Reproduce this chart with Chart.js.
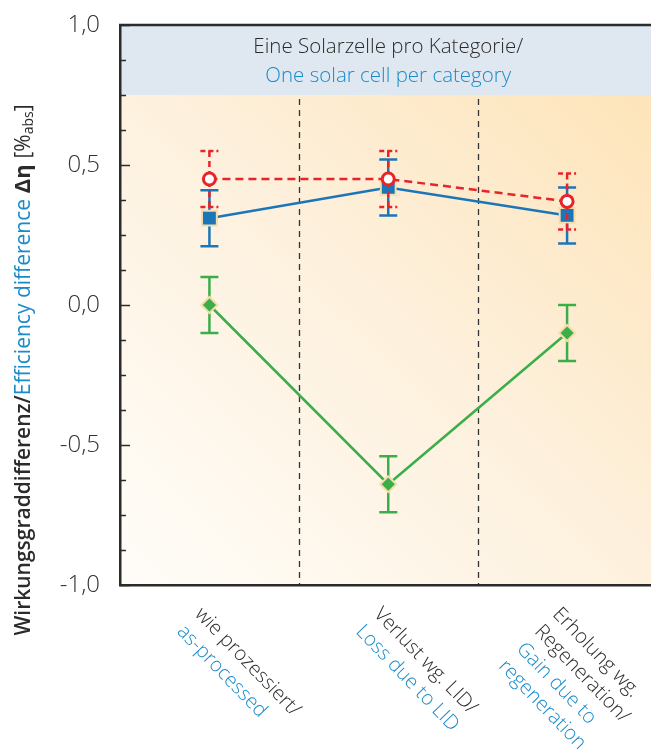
<!DOCTYPE html>
<html>
<head>
<meta charset="utf-8">
<script src="https://cdn.jsdelivr.net/npm/chart.js@4"></script>
<style>
  html, body { margin: 0; padding: 0; background: #fff; overflow: hidden; }
  #wrap { width: 669px; height: 751px; }
</style>
</head>
<body>
<div id="wrap"><canvas id="chart" width="669" height="751"></canvas></div>
<script>
// ===== DATA =====
const categories = ['wie prozessiert', 'Verlust wg. LID', 'Erholung wg. Regeneration'];
const labelsDe = [['wie prozessiert/'], ['Verlust wg. LID/'], ['Erholung wg.', 'Regeneration/']];
const labelsEn = [['as-processed'], ['Loss due to LID'], ['Gain due to', 'regeneration']];

const redValues = [0.45, 0.45, 0.37];
const redErrors = [0.10, 0.10, 0.10];
const blueValues = [0.31, 0.42, 0.32];
const blueErrors = [0.10, 0.10, 0.10];
const greenValues = [0.00, -0.64, -0.10];
const greenErrors = [0.10, 0.10, 0.10];

const yTicks = [-1.0, -0.5, 0.0, 0.5, 1.0];
const yMinorStep = 0.125;
const bandFrom = 0.75;

const headerDe = 'Eine Solarzelle pro Kategorie/';
const headerEn = 'One solar cell per category';

// ===== STYLE =====
const FONT = '"Open Sans", sans-serif';
const DARK = '#2b2b2b';
const BLUE_TXT = '#1a8bc9';
const RED = '#e8242b';
const BLUE = '#1b76b9';
const GREEN = '#3aae49';
const HALO = '#f7dcab';

const errorSets = [
  { errors: redErrors, color: RED, dash: [6, 4] },
  { errors: blueErrors, color: BLUE, dash: [] },
  { errors: greenErrors, color: GREEN, dash: [] }
];

const decor = {
  id: 'decor',
  beforeDraw(chart) {
    const { ctx, chartArea: a, scales: { x, y } } = chart;
    const bandY = y.getPixelForValue(bandFrom);
    ctx.save();
    const g = ctx.createLinearGradient(a.left, a.bottom, a.right, a.top);
    g.addColorStop(0, '#fffdf9');
    g.addColorStop(0.5, '#fdf0dc');
    g.addColorStop(1, '#fee2b3');
    ctx.fillStyle = g;
    ctx.fillRect(a.left, bandY, a.right - a.left, a.bottom - bandY);
    ctx.fillStyle = '#dfe7f1';
    ctx.fillRect(a.left, a.top, a.right - a.left, bandY - a.top);

    // dashed separators between categories
    ctx.strokeStyle = '#333';
    ctx.lineWidth = 1.3;
    ctx.setLineDash([6, 5]);
    for (let i = 0; i < categories.length - 1; i++) {
      const sx = Math.round((x.getPixelForValue(i) + x.getPixelForValue(i + 1)) / 2) + 0.5;
      ctx.beginPath();
      ctx.moveTo(sx, bandY + 4);
      ctx.lineTo(sx, a.bottom);
      ctx.stroke();
    }
    ctx.restore();
  },
  beforeDatasetDraw(chart, args) {
    const set = errorSets[args.index];
    const { ctx, scales: { x, y } } = chart;
    const vals = chart.data.datasets[args.index].data;
    ctx.save();
    ctx.strokeStyle = set.color;
    ctx.lineWidth = 2.5;
    vals.forEach((v, i) => {
      const px = x.getPixelForValue(i);
      const top = y.getPixelForValue(v + set.errors[i]);
      const bot = y.getPixelForValue(v - set.errors[i]);
      ctx.setLineDash(set.dash);
      ctx.beginPath();
      ctx.moveTo(px, top);
      ctx.lineTo(px, bot);
      ctx.stroke();
      ctx.setLineDash(set.dash.length ? [5, 3] : []);
      ctx.beginPath();
      ctx.moveTo(px - 9, top); ctx.lineTo(px + 9, top);
      ctx.moveTo(px - 9, bot); ctx.lineTo(px + 9, bot);
      ctx.stroke();
    });
    ctx.restore();
  },
  afterDraw(chart) {
    const { ctx, chartArea: a, scales: { x, y } } = chart;
    ctx.save();

    // top frame line
    ctx.strokeStyle = DARK;
    ctx.lineWidth = 2.5;
    ctx.beginPath();
    ctx.moveTo(a.left - 1, a.top);
    ctx.lineTo(a.right + 5, a.top);
    ctx.stroke();

    // inward tick marks
    ctx.lineWidth = 1.5;
    for (let v = y.min; v <= y.max + 1e-9; v += yMinorStep) {
      const py = Math.round(y.getPixelForValue(v)) + 0.5;
      const major = yTicks.some(t => Math.abs(t - v) < 1e-6);
      ctx.beginPath();
      ctx.moveTo(a.left, py);
      ctx.lineTo(a.left + (major ? 10 : 6), py);
      ctx.stroke();
    }

    // header in the blue band
    const cx = (a.left + a.right) / 2;
    ctx.textAlign = 'center';
    ctx.textBaseline = 'middle';
    ctx.font = '300 20.5px ' + FONT;
    ctx.fillStyle = DARK;
    ctx.fillText(headerDe, cx, a.top + 22);
    ctx.fillStyle = BLUE_TXT;
    ctx.fillText(headerEn, cx, a.top + 51);

    // rotated category labels
    ctx.textAlign = 'left';
    ctx.textBaseline = 'top';
    ctx.font = '300 20px ' + FONT;
    categories.forEach((c, i) => {
      const px = x.getPixelForValue(i);
      const lines = labelsDe[i].map(t => [t, DARK]).concat(labelsEn[i].map(t => [t, BLUE_TXT]));
      ctx.save();
      ctx.translate(px - 4, a.bottom + 19);
      ctx.rotate(46 * Math.PI / 180);
      lines.forEach(([t, col], k) => {
        ctx.fillStyle = col;
        ctx.fillText(t, 0, k * 25);
      });
      ctx.restore();
    });

    // y axis title, mixed colours
    const parts = [
      { t: 'Wirkungsgraddifferenz/', f: '600 21px ' + FONT, c: DARK, dy: 0 },
      { t: 'Efficiency difference', f: '21px ' + FONT, c: BLUE_TXT, dy: 0 },
      { t: ' Δη ', f: 'bold 22px ' + FONT, c: DARK, dy: 0 },
      { t: '[%', f: '21px ' + FONT, c: DARK, dy: 0 },
      { t: 'abs', f: '14px ' + FONT, c: DARK, dy: 5 },
      { t: ']', f: '21px ' + FONT, c: DARK, dy: 0 }
    ];
    let total = 0;
    parts.forEach(p => { ctx.font = p.f; p.w = ctx.measureText(p.t).width; total += p.w; });
    ctx.translate(24, 370);
    ctx.rotate(-Math.PI / 2);
    ctx.textAlign = 'left';
    ctx.textBaseline = 'middle';
    let pos = -total / 2;
    parts.forEach(p => {
      ctx.font = p.f;
      ctx.fillStyle = p.c;
      ctx.fillText(p.t, pos, p.dy);
      pos += p.w;
    });
    ctx.restore();
  }
};

new Chart(document.getElementById('chart'), {
  type: 'line',
  data: {
    labels: categories,
    datasets: [
      {
        label: 'red',
        data: redValues,
        borderColor: RED,
        borderWidth: 2.5,
        borderDash: [8, 5],
        pointStyle: 'circle',
        pointRadius: 6,
        pointBorderWidth: 3,
        pointBackgroundColor: '#fff',
        pointBorderColor: RED,
        tension: 0
      },
      {
        label: 'blue',
        data: blueValues,
        borderColor: BLUE,
        borderWidth: 2.5,
        pointStyle: 'rect',
        pointRadius: 10.5,
        pointBorderWidth: 2,
        pointBackgroundColor: BLUE,
        pointBorderColor: HALO,
        tension: 0
      },
      {
        label: 'green',
        data: greenValues,
        borderColor: GREEN,
        borderWidth: 2.5,
        pointStyle: 'rectRot',
        pointRadius: 8,
        pointBorderWidth: 2,
        pointBackgroundColor: GREEN,
        pointBorderColor: HALO,
        tension: 0
      }
    ]
  },
  options: {
    responsive: false,
    animation: false,
    events: [],
    layout: { padding: { left: 60, top: 25, right: 3, bottom: 166 } },
    plugins: {
      legend: { display: false },
      tooltip: { enabled: false }
    },
    scales: {
      x: {
        type: 'category',
        offset: true,
        grid: { display: false, drawTicks: false },
        ticks: { display: false },
        border: { display: true, color: DARK, width: 2.5 }
      },
      y: {
        min: -1,
        max: 1,
        afterFit(scale) {
          scale.width = 60;
          scale.paddingTop = 0;
          scale.paddingBottom = 0;
        },
        grid: { display: false, drawTicks: false },
        border: { display: true, color: DARK, width: 2.5 },
        afterBuildTicks(scale) { scale.ticks = yTicks.map(v => ({ value: v })); },
        ticks: {
          padding: 20,
          color: '#333',
          font: { family: FONT, size: 24, weight: '300' },
          callback: v => v.toFixed(1).replace('.', ',')
        }
      }
    }
  },
  plugins: [decor]
});
</script>
</body>
</html>
